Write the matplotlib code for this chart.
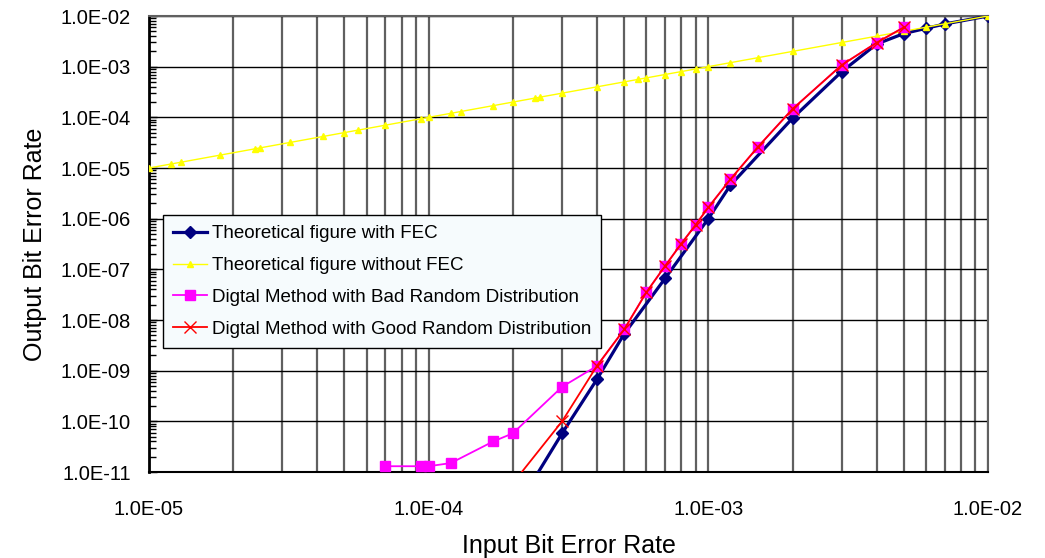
import matplotlib
matplotlib.use("Agg")
import matplotlib.pyplot as plt
from matplotlib.ticker import FixedLocator, FuncFormatter, NullFormatter
import numpy as np

plt.rcParams['font.family'] = ['Liberation Sans', 'DejaVu Sans']

# ---- data ----
fec_x = [2e-4, 3e-4, 4e-4, 5e-4, 7e-4, 1e-3, 1.2e-3, 2e-3, 3e-3, 4e-3, 5e-3, 6e-3, 7e-3, 1e-2]
fec_y = [1.5e-12, 5.8e-11, 6.8e-10, 5.3e-9, 6.6e-8, 1.0e-6, 4.6e-6, 9.6e-5, 8.0e-4, 2.8e-3, 4.5e-3, 5.7e-3, 6.95e-3, 1.0e-2]

nofec_x = [1e-5, 1.2e-5, 1.3e-5, 1.8e-5, 2.4e-5, 2.5e-5, 3.2e-5, 4.2e-5, 5e-5, 5.6e-5, 7e-5,
           9.4e-5, 1e-4, 1.2e-4, 1.3e-4, 1.7e-4, 2e-4, 2.4e-4, 2.5e-4, 3e-4, 4e-4, 5e-4, 5.6e-4,
           6e-4, 7e-4, 8e-4, 9e-4, 1e-3, 1.2e-3, 1.5e-3, 2e-3, 3e-3, 4e-3, 5e-3, 6e-3, 7e-3, 1e-2]
nofec_y = [1e-5, 1.2e-5, 1.3e-5, 1.8e-5, 2.4e-5, 2.5e-5, 3.2e-5, 4.2e-5, 5e-5, 5.6e-5, 7e-5,
           9.4e-5, 1e-4, 1.2e-4, 1.3e-4, 1.7e-4, 2e-4, 2.4e-4, 2.5e-4, 3e-4, 4e-4, 5e-4, 5.6e-4,
           6e-4, 7e-4, 8e-4, 9e-4, 1e-3, 1.2e-3, 1.5e-3, 2e-3, 3e-3, 4e-3, 5e-3, 6e-3, 7e-3, 1e-2]

bad_x = [7e-5, 9.4e-5, 1e-4, 1.2e-4, 1.7e-4, 2e-4, 3e-4, 4e-4, 5e-4, 6e-4, 7e-4, 8e-4, 9e-4,
         1e-3, 1.2e-3, 1.5e-3, 2e-3, 3e-3, 4e-3, 5e-3]
bad_y = [1.3e-11, 1.3e-11, 1.3e-11, 1.5e-11, 4.0e-11, 5.8e-11, 4.8e-10, 1.24e-9, 6.5e-9, 3.5e-8,
         1.16e-7, 3.2e-7, 7.5e-7, 1.67e-6, 6.0e-6, 2.56e-5, 1.46e-4, 1.08e-3, 2.98e-3, 5.97e-3]

good_x = [2e-4, 3e-4, 4e-4, 5e-4, 6e-4, 7e-4, 8e-4, 9e-4, 1e-3, 1.2e-3, 1.5e-3, 2e-3, 3e-3, 4e-3, 5e-3]
good_y = [6e-12, 1.0e-10, 1.25e-9, 6.5e-9, 3.5e-8, 1.16e-7, 3.2e-7, 7.5e-7, 1.67e-6, 6.0e-6,
          2.56e-5, 1.46e-4, 1.08e-3, 2.98e-3, 5.97e-3]

labels = ["Theoretical figure with FEC",
          "Theoretical figure without FEC",
          "Digtal Method with Bad Random Distribution",
          "Digtal Method with Good Random Distribution"]

x_label = "Input Bit Error Rate"
y_label = "Output Bit Error Rate"

# ---- figure ----
fig = plt.figure(figsize=(10.45, 5.58), dpi=100)
ax = fig.add_axes([149/1045, 1-472/558, (988-149)/1045, (472-16)/558])

ax.set_xscale('log')
ax.set_yscale('log')
ax.set_xlim(1e-5, 1e-2)
ax.set_ylim(1e-11, 1e-2)

ax.plot(fec_x, fec_y, color='#000080', lw=2.3, marker='D', ms=6.5, label=labels[0], zorder=3)
ax.plot(nofec_x, nofec_y, color='#FFFF00', lw=1.0, marker='^', ms=5, label=labels[1], zorder=4)
ax.plot(bad_x, bad_y, color='#FF00FF', lw=1.3, marker='s', ms=7, label=labels[2], zorder=5)
ax.plot(good_x, good_y, color='#FF0000', lw=1.3, marker='x', ms=8, mew=1.0, label=labels[3], zorder=6)

# grid
xmaj = [10.0**e for e in range(-5, -1)]
xmin = [m * 10.0**e for e in range(-5, -2) for m in range(2, 10)]
ymaj = [10.0**e for e in range(-11, -1)]
ymin = [m * 10.0**e for e in range(-11, -2) for m in range(2, 10)]
ax.xaxis.set_major_locator(FixedLocator(xmaj))
ax.xaxis.set_minor_locator(FixedLocator(xmin))
ax.yaxis.set_major_locator(FixedLocator(ymaj))
ax.yaxis.set_minor_locator(FixedLocator(ymin))
fmt = FuncFormatter(lambda v, _: f"{v:.1E}")
ax.xaxis.set_major_formatter(fmt)
ax.yaxis.set_major_formatter(fmt)
ax.xaxis.set_minor_formatter(NullFormatter())
ax.yaxis.set_minor_formatter(NullFormatter())

ax.grid(True, which='both', axis='x', color='#606060', lw=1.6)
ax.grid(True, which='major', axis='y', color='#000000', lw=1.0)
ax.set_axisbelow(True)

ax.tick_params(axis='x', which='both', length=0, labelsize=14.5, pad=20)
ax.tick_params(axis='y', which='major', direction='in', length=6, width=1, labelsize=14.5, pad=13)
ax.tick_params(axis='y', which='minor', direction='in', length=5, width=1)

for s in ['top', 'right']:
    ax.spines[s].set_color('#606060')
    ax.spines[s].set_linewidth(1.5)
ax.spines['left'].set_color('black')
ax.spines['left'].set_linewidth(2)
ax.spines['bottom'].set_color('black')
ax.spines['bottom'].set_linewidth(1.5)

ax.set_xlabel(x_label, fontsize=18, labelpad=11)
ax.set_ylabel(y_label, fontsize=18, labelpad=10)

leg = ax.legend(loc='upper left', bbox_to_anchor=(0.0167, 0.5636), fontsize=13.5,
                frameon=True, fancybox=False, shadow=False, framealpha=1,
                handlelength=1.8, handletextpad=0.25, borderpad=0.55, labelspacing=0.78,
                borderaxespad=0)
leg.get_frame().set_facecolor('#F6FBFD')
leg.get_frame().set_edgecolor('black')
leg.get_frame().set_linewidth(1.0)
leg.set_zorder(10)

fig.savefig('out.png', dpi=100)
